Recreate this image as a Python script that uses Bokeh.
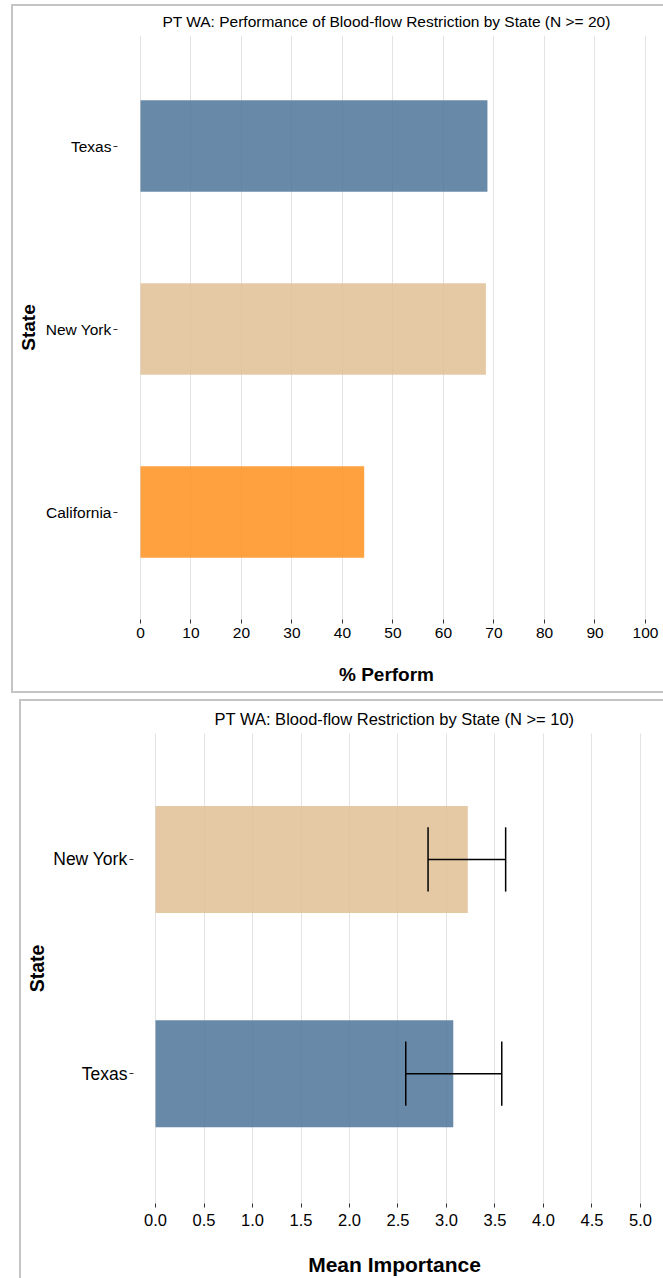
from bokeh.plotting import figure
from bokeh.models import Range1d, FixedTicker, ColumnDataSource
from bokeh.layouts import column, row
from bokeh.embed import file_html
from bokeh.resources import INLINE

FONT = "Liberation Sans"
EDGE = "#c4c4c4"

# ---- Panel 1 data (bottom to top) ----
states1 = ["California", "New York", "Texas"]
perform = [44.3, 68.4, 68.7]
colors1 = ["#ff901d", "#e0bf95", "#4d7699"]
xticks1 = [0, 10, 20, 30, 40, 50, 60, 70, 80, 90, 100]

# ---- Panel 2 data (bottom to top) ----
states2 = ["Texas", "New York"]
importance = [3.07, 3.22]
err_low = [2.58, 2.81]
err_high = [3.57, 3.61]
colors2 = ["#4d7699", "#e0bf95"]
xticks2 = [0.0, 0.5, 1.0, 1.5, 2.0, 2.5, 3.0, 3.5, 4.0, 4.5, 5.0]


def style(p, tick_size, cat_size, xlab_size, ylab_size, title_size, title_standoff):
    p.title.align = "center"
    p.title.vertical_align = "top"
    p.title.text_font = FONT
    p.title.text_font_size = title_size
    p.title.text_font_style = "normal"
    p.title.text_color = "#000000"
    p.title.standoff = title_standoff
    p.border_fill_alpha = 0
    p.ygrid.grid_line_color = None
    p.xgrid.grid_line_color = "#e3e3e3"
    p.xgrid.grid_line_width = 1
    p.outline_line_color = None
    for ax in (p.xaxis[0], p.yaxis[0]):
        ax.axis_line_color = None
        ax.major_tick_in = 0
        ax.major_tick_out = 4
        ax.major_tick_line_color = "#333333"
        ax.minor_tick_line_color = None
        ax.major_label_text_font = FONT
        ax.major_label_text_color = "#000000"
        ax.axis_label_text_font = FONT
        ax.axis_label_text_font_style = "bold"
        ax.axis_label_text_color = "#000000"
    p.xaxis.major_label_text_font_size = tick_size
    p.yaxis.major_label_text_font_size = cat_size
    p.xaxis.axis_label_text_font_size = xlab_size
    p.yaxis.axis_label_text_font_size = ylab_size
    p.yaxis.major_label_standoff = 2
    p.toolbar.logo = None


# ---------------- Panel 1 ----------------
y1 = list(range(len(states1)))
src1 = ColumnDataSource(dict(y=y1, v=perform, c=colors1))
p1 = figure(width=652, height=689,
            x_range=Range1d(-4.55, 101.98), y_range=Range1d(-0.587, 2.604),
            output_backend="svg", toolbar_location=None,
            min_border_left=106, min_border_right=8,
            min_border_top=31, min_border_bottom=74,
            title="PT WA: Performance of Blood-flow Restriction by State (N >= 20)")
p1.hbar(y="y", left=0, right="v", height=0.5, fill_color="c", fill_alpha=0.85,
        line_color=None, source=src1)
p1.xaxis.ticker = FixedTicker(ticks=xticks1)
p1.yaxis.ticker = FixedTicker(ticks=y1)
p1.yaxis.major_label_overrides = {i: s for i, s in enumerate(states1)}
p1.xaxis.axis_label = "% Perform"
p1.yaxis.axis_label = "State"
style(p1, "15.5px", "15.5px", "19px", "19px", "15.5px", 7)
p1.xaxis.major_label_standoff = 4
p1.xaxis.axis_label_standoff = 23
p1.yaxis.axis_label_standoff = 4
p1.styles = {"margin-left": "11px", "margin-top": "4px",
             "box-shadow": f"inset 2px 2px 0 {EDGE}, inset 0 -2px 0 {EDGE}"}

# ---------------- Panel 2 ----------------
y2 = list(range(len(states2)))
src2 = ColumnDataSource(dict(y=y2, v=importance, lo=err_low, hi=err_high, c=colors2,
                             ylo=[v - 0.15 for v in y2], yhi=[v + 0.15 for v in y2]))
p2 = figure(width=644, height=579,
            x_range=Range1d(-0.227, 5.155), y_range=Range1d(-0.606, 1.588),
            output_backend="svg", toolbar_location=None,
            min_border_left=114, min_border_right=8,
            min_border_top=34, min_border_bottom=71,
            title="PT WA: Blood-flow Restriction by State (N >= 10)")
p2.hbar(y="y", left=0, right="v", height=0.5, fill_color="c", fill_alpha=0.85,
        line_color=None, source=src2)
p2.segment(x0="lo", x1="hi", y0="y", y1="y", line_color="#000000", line_width=1.5, source=src2)
p2.segment(x0="lo", x1="lo", y0="ylo", y1="yhi", line_color="#000000", line_width=1.5, source=src2)
p2.segment(x0="hi", x1="hi", y0="ylo", y1="yhi", line_color="#000000", line_width=1.5, source=src2)
p2.xaxis.ticker = FixedTicker(ticks=xticks2)
p2.xaxis.major_label_overrides = {t: f"{t:.1f}" for t in xticks2}
p2.yaxis.ticker = FixedTicker(ticks=y2)
p2.yaxis.major_label_overrides = {i: s for i, s in enumerate(states2)}
p2.xaxis.axis_label = "Mean Importance"
p2.yaxis.axis_label = "State"
style(p2, "16.5px", "17.5px", "21px", "19.5px", "16.5px", 8)
p2.xaxis.major_label_standoff = 6
p2.xaxis.axis_label_standoff = 24
p2.yaxis.axis_label_standoff = 2
p2.styles = {"margin-left": "19px", "margin-top": "6px",
             "box-shadow": f"inset 2px 2px 0 {EDGE}"}

layout = column(row(p1), row(p2), spacing=0)
open("out.html", "w").write(file_html(layout, INLINE))
